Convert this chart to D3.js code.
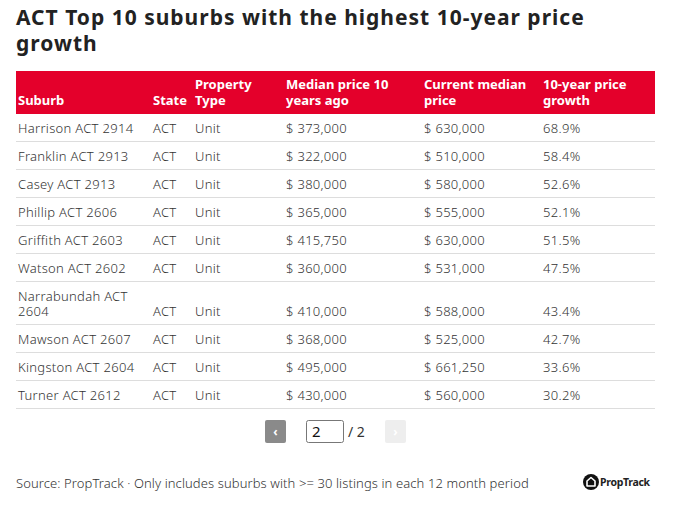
<!DOCTYPE html>
<html><head><meta charset="utf-8">
<script src="https://cdn.jsdelivr.net/npm/d3@7"></script>
<style>
html,body{margin:0;padding:0;background:#fff;}
svg{display:block;}
text{font-family:"Noto Sans",sans-serif;}
</style></head>
<body>
<svg id="chart" width="675" height="516"></svg>
<script>
const title = "ACT Top 10 suburbs with the highest 10-year price growth";
const headers = ["Suburb","State","Property Type","Median price 10 years ago","Current median price","10-year price growth"];
const suburbs = ["Harrison ACT 2914","Franklin ACT 2913","Casey ACT 2913","Phillip ACT 2606","Griffith ACT 2603","Watson ACT 2602","Narrabundah ACT 2604","Mawson ACT 2607","Kingston ACT 2604","Turner ACT 2612"];
const states = ["ACT","ACT","ACT","ACT","ACT","ACT","ACT","ACT","ACT","ACT"];
const types = ["Unit","Unit","Unit","Unit","Unit","Unit","Unit","Unit","Unit","Unit"];
const price10yAgo = [373000,322000,380000,365000,415750,360000,410000,368000,495000,430000];
const currentPrice = [630000,510000,580000,555000,630000,531000,588000,525000,661250,560000];
const growth = [68.9,58.4,52.6,52.1,51.5,47.5,43.4,42.7,33.6,30.2];
const page = 2, pageCount = 2;
const source = "Source: PropTrack · Only includes suburbs with >= 30 listings in each 12 month period";

const svg = d3.select("#chart");
const left = 16, right = 655;
const red = "#e4002b", txt = "#333";
const fontSize = 13;

// title (wrapped to two lines)
const tt = svg.append("text").attr("font-size", 21).attr("font-weight", 700).attr("fill", "#222").attr("letter-spacing", 1);
const titleWords = title.split(" ");
tt.append("tspan").attr("x", left).attr("y", 25).text(titleWords.slice(0, -1).join(" "));
tt.append("tspan").attr("x", left).attr("y", 51).text(titleWords.slice(-1)[0]);

// column layout
const colX = d3.scaleOrdinal().domain(d3.range(6)).range([18,153,195,286,424,543]);
const colW = [130,40,88,134,116,110];

const fmtMoney = d => "$ " + d3.format(",")(d);
const fmtPct = d => d3.format(".1f")(d) + "%";
const rows = suburbs.map((s,i) => [s, states[i], types[i], fmtMoney(price10yAgo[i]), fmtMoney(currentPrice[i]), fmtPct(growth[i])]);

const measurer = svg.append("text").attr("font-size", fontSize).attr("letter-spacing", 0.3).attr("visibility","hidden");
function wrap(str, width){
  const words = str.split(" "); const lines = []; let cur = "";
  words.forEach(w => {
    const t = cur ? cur + " " + w : w;
    measurer.text(t);
    if (measurer.node().getComputedTextLength() > width && cur){ lines.push(cur); cur = w; }
    else cur = t;
  });
  if (cur) lines.push(cur);
  return lines;
}
const headerWrap = [["Suburb"],["State"],["Property","Type"],["Median price 10","years ago"],["Current median","price"],["10-year price","growth"]];

// header
const headTop = 71, headH = 43;
svg.append("rect").attr("x", left).attr("y", headTop).attr("width", right-left).attr("height", headH).attr("fill", red);
headerWrap.forEach((lines, c) => {
  const lastBase = 105;
  const t = svg.append("text").attr("font-size", fontSize).attr("font-weight", 700).attr("fill", "#fff");
  lines.forEach((l,k) => t.append("tspan").attr("x", colX(c)).attr("y", lastBase - (lines.length-1-k)*16).text(l));
});

// rows
const lineH = 15, padH = 28;
const rowLines = rows.map(r => r.map((v,c) => c===0 ? wrap(v, colW[c]) : [v]));
const heights = rowLines.map(rl => padH + (d3.max(rl, l => l.length)-1)*lineH);
const tops = d3.cumsum([0].concat(heights)).map(v => v + headTop + headH);
const g = svg.append("g");
rows.forEach((r,i) => {
  const top = tops[i], h = heights[i];
  const n = d3.max(rowLines[i], l => l.length);
  const lastBase = top + h/2 + (n-1)*lineH/2 + 4.5;
  rowLines[i].forEach((lines,c) => {
    const t = g.append("text").attr("font-size", fontSize).attr("fill", txt).attr("font-weight", 300).attr("letter-spacing", 0.3);
    lines.forEach((l,k) => t.append("tspan").attr("x", colX(c)).attr("y", lastBase - (lines.length-1-k)*lineH).text(l));
  });
  g.append("line").attr("x1", left).attr("x2", right).attr("y1", top+h-0.5).attr("y2", top+h-0.5)
    .attr("stroke", "#ddd").attr("stroke-width", 1);
});

// pagination
const py = 420, ph = 23;
svg.append("rect").attr("x", 265).attr("y", py).attr("width", 21).attr("height", ph).attr("rx", 2).attr("fill", "#8a8a8a");
svg.append("text").attr("x", 275.5).attr("y", py+16).attr("text-anchor","middle").attr("font-size", 12).attr("font-weight",700).attr("fill","#fff").text("‹");
svg.append("rect").attr("x", 306.5).attr("y", py+0.5).attr("width", 37).attr("height", ph-1).attr("rx", 2).attr("fill", "#fff").attr("stroke", "#777");
svg.append("text").attr("x", 312).attr("y", py+17).attr("font-size", 15).attr("fill","#111").text(page);
svg.append("text").attr("x", 348).attr("y", py+17).attr("font-size", 14).attr("fill","#333").text("/ " + pageCount);
svg.append("rect").attr("x", 385).attr("y", py).attr("width", 21).attr("height", ph).attr("rx", 2).attr("fill", "#eeeeee");
svg.append("text").attr("x", 395.5).attr("y", py+16).attr("text-anchor","middle").attr("font-size", 12).attr("font-weight",700).attr("fill","#fff").text("›");

// footer
svg.append("text").attr("x", left).attr("y", 488).attr("font-size", 13).attr("font-weight", 300).attr("fill", txt).attr("letter-spacing", 0.1).text(source);
const lg = svg.append("g").attr("transform", "translate(591,482)");
lg.append("circle").attr("r", 8).attr("fill", "#111");
lg.append("path").attr("d", "M-4,4 L-4,-1 L0,-4.5 L4,-1 L4,4 Z").attr("fill", "none").attr("stroke", "#fff").attr("stroke-width", 1.6).attr("stroke-linejoin","round");
lg.append("text").attr("x", 9).attr("y", 4).attr("font-size", 10.5).attr("font-weight", 700).attr("fill", "#222").attr("letter-spacing", -0.3).text("PropTrack");
measurer.remove();
</script>
</body></html>
